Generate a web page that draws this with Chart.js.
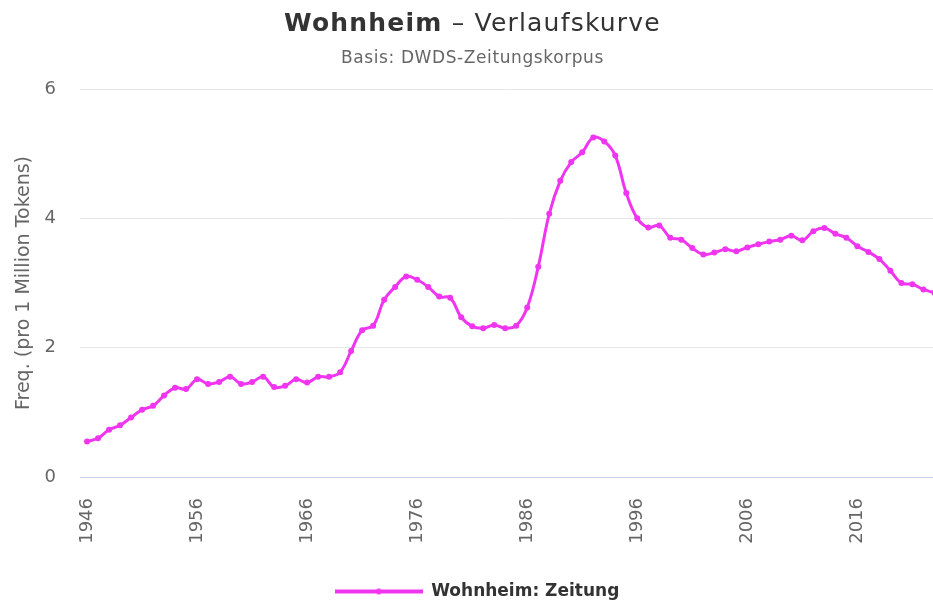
<!DOCTYPE html>
<html>
<head>
<meta charset="utf-8">
<script src="https://cdn.jsdelivr.net/npm/chart.js@4.4.1/dist/chart.umd.min.js"></script>
<style>
  body { margin: 0; background: #fff; }
  #wrap { position: relative; width: 933px; height: 603px; overflow: hidden; }
  #title, #subtitle {
    position: absolute; left: 0; width: 945px; text-align: center;
    font-family: "DejaVu Sans", Verdana, sans-serif; white-space: nowrap;
  }
  #title { top: 6px; font-size: 25px; line-height: 34px; color: #333; letter-spacing: 1.2px; }
  #subtitle { top: 46px; font-size: 17px; line-height: 22px; color: #666; letter-spacing: 0.6px; }
</style>
</head>
<body>
<div id="wrap">
  <canvas id="verlauf" width="945" height="603"></canvas>
  <div id="title"><b>Wohnheim</b> – Verlaufskurve</div>
  <div id="subtitle">Basis: DWDS-Zeitungskorpus</div>
</div>
<script>
// Daten: Frequenz pro 1 Million Tokens, DWDS-Zeitungskorpus
const years = [
  1946, 1947, 1948, 1949, 1950, 1951, 1952, 1953, 1954, 1955,
  1956, 1957, 1958, 1959, 1960, 1961, 1962, 1963, 1964, 1965,
  1966, 1967, 1968, 1969, 1970, 1971, 1972, 1973, 1974, 1975,
  1976, 1977, 1978, 1979, 1980, 1981, 1982, 1983, 1984, 1985,
  1986, 1987, 1988, 1989, 1990, 1991, 1992, 1993, 1994, 1995,
  1996, 1997, 1998, 1999, 2000, 2001, 2002, 2003, 2004, 2005,
  2006, 2007, 2008, 2009, 2010, 2011, 2012, 2013, 2014, 2015,
  2016, 2017, 2018, 2019, 2020, 2021, 2022, 2023
];
const freqZeitung = [
  0.55, 0.60, 0.73, 0.80, 0.92, 1.04, 1.10, 1.26, 1.38, 1.36,
  1.51, 1.44, 1.47, 1.55, 1.44, 1.47, 1.55, 1.39, 1.41, 1.51,
  1.46, 1.55, 1.55, 1.62, 1.95, 2.27, 2.34, 2.74, 2.94, 3.10,
  3.05, 2.94, 2.79, 2.77, 2.47, 2.33, 2.30, 2.35, 2.30, 2.34,
  2.62, 3.25, 4.07, 4.58, 4.87, 5.02, 5.25, 5.19, 4.97, 4.39,
  4.00, 3.86, 3.89, 3.70, 3.67, 3.54, 3.44, 3.47, 3.52, 3.49,
  3.55, 3.60, 3.64, 3.67, 3.73, 3.66, 3.80, 3.85, 3.76, 3.70,
  3.57, 3.48, 3.37, 3.19, 3.00, 2.98, 2.90, 2.85
];
const xTicks = [1946, 1956, 1966, 1976, 1986, 1996, 2006, 2016];
const yTicks = [0, 2, 4, 6];

const lineColor = '#f035f0';
const fontFamily = '"DejaVu Sans", Verdana, sans-serif';

// Legendensymbol: Linie mit Punkt
function legendSymbol() {
    const c = document.createElement('canvas');
    c.width = 88;
    c.height = 10;
    const g = c.getContext('2d');
    g.strokeStyle = lineColor;
    g.lineWidth = 4;
    g.beginPath();
    g.moveTo(0, 5);
    g.lineTo(88, 5);
    g.stroke();
    g.fillStyle = lineColor;
    g.beginPath();
    g.arc(44, 5, 3, 0, Math.PI * 2);
    g.fill();
    return c;
}

const ctx = document.getElementById('verlauf').getContext('2d');
new Chart(ctx, {
    type: 'line',
    data: {
        datasets: [{
            label: 'Wohnheim: Zeitung',
            data: years.map((y, i) => ({ x: y, y: freqZeitung[i] })),
            borderColor: lineColor,
            backgroundColor: lineColor,
            borderWidth: 3,
            pointRadius: 3,
            pointBackgroundColor: lineColor,
            pointBorderWidth: 0,
            tension: 0.4,
            pointStyle: 'circle'
        }]
    },
    options: {
        responsive: false,
        animation: false,
        layout: {
            padding: { top: 89, left: 9, right: 0, bottom: -7 }
        },
        plugins: {
            title: { display: false },
            tooltip: { enabled: false },
            legend: {
                position: 'bottom',
                labels: {
                    usePointStyle: true,
                    pointStyle: legendSymbol(),
                    pointStyleWidth: 88,
                    boxHeight: 10,
                    padding: 4,
                    color: '#333',
                    font: { family: fontFamily, size: 17, weight: 'bold' }
                }
            }
        },
        scales: {
            x: {
                type: 'linear',
                min: 1945.36,
                max: 2023.6,
                afterBuildTicks: (scale) => {
                    scale.ticks = xTicks.map(v => ({ value: v }));
                },
                afterFit: (scale) => {
                    scale.height = 102;
                    scale.paddingRight = 0;
                    scale.paddingLeft = 0;
                },
                ticks: {
                    autoSkip: false,
                    minRotation: 90,
                    maxRotation: 90,
                    padding: 21,
                    color: '#666',
                    font: { family: fontFamily, size: 18 },
                    callback: (v) => String(v)
                },
                grid: { display: false, drawTicks: false },
                border: { display: true, color: '#ccd6eb', width: 1 }
            },
            y: {
                min: 0,
                max: 6,
                afterBuildTicks: (scale) => {
                    scale.ticks = yTicks.map(v => ({ value: v }));
                },
                afterFit: (scale) => { scale.width = 71; },
                ticks: {
                    padding: 24,
                    color: '#666',
                    font: { family: fontFamily, size: 18 }
                },
                grid: {
                    drawTicks: false,
                    color: (c) => c.tick && c.tick.value === 0 ? '#ccd6eb' : '#e6e6e6'
                },
                border: { display: false },
                title: {
                    display: true,
                    text: 'Freq. (pro 1 Million Tokens)',
                    color: '#666',
                    font: { family: fontFamily, size: 19 }
                }
            }
        }
    }
});
</script>
</body>
</html>
